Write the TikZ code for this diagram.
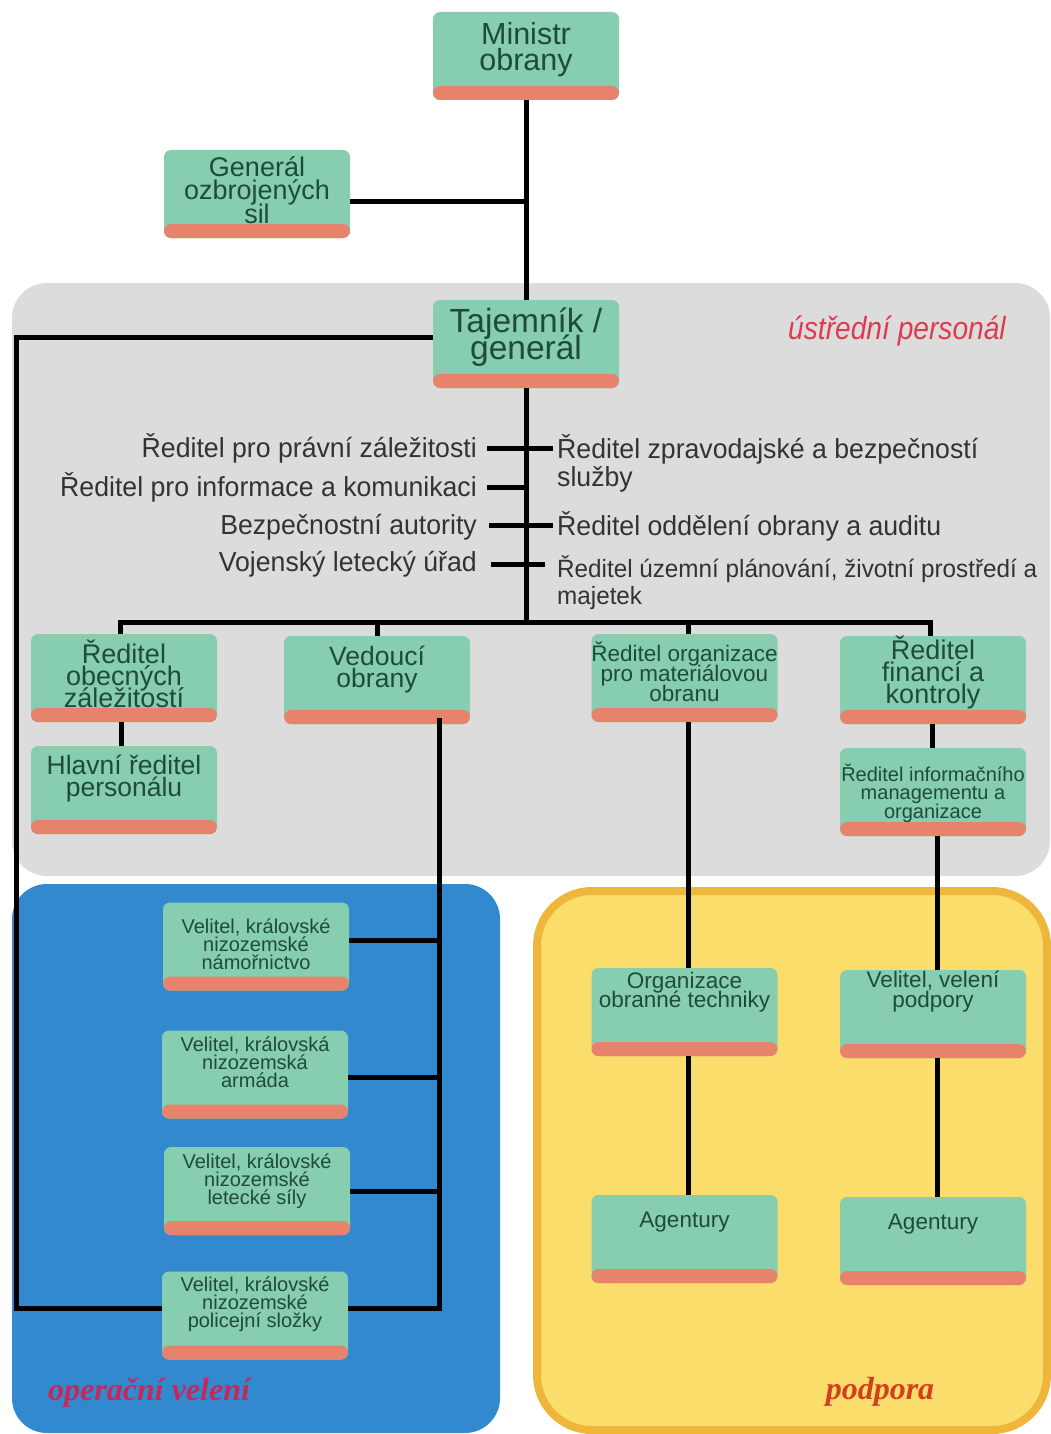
\documentclass[tikz,border=0pt]{standalone}
\usepackage{fontspec}
\setmainfont{Liberation Sans}
\newfontfamily\boxfont{Liberation Sans}
\newfontfamily\narrowfont[FakeStretch=0.97]{Liberation Sans}
\newfontfamily\italfont[FakeStretch=0.88]{Liberation Sans}
\newfontfamily\serifbi{Liberation Serif}
\definecolor{boxg}{HTML}{87CDAF}
\definecolor{band}{HTML}{E8836B}
\definecolor{boxtxt}{HTML}{1E4C3A}
\definecolor{grayreg}{HTML}{DCDCDC}
\definecolor{bluereg}{HTML}{3389CE}
\definecolor{yelreg}{HTML}{FADD6A}
\definecolor{yelbord}{HTML}{EFB63C}
\definecolor{lbltxt}{HTML}{333333}
\definecolor{redlbl}{HTML}{DF3A4E}
\definecolor{oplbl}{HTML}{C5285B}
\definecolor{podlbl}{HTML}{D2401F}
\tikzset{
  orgbox/.style={fill=boxg, rounded corners=7pt, minimum width=186pt, minimum height=88pt, inner sep=0pt,
    path picture={\fill[band] ([yshift=14pt]path picture bounding box.south west) rectangle (path picture bounding box.south east);}},
  boxtext/.style={text=boxtxt, align=center, inner sep=0pt},
  lbl/.style={text=lbltxt, inner sep=0pt, font=\narrowfont\fontsize{27.5}{28}\selectfont, text height=20pt, text depth=6pt},
  lblml/.style={text=lbltxt, inner sep=0pt, align=left, font=\narrowfont\fontsize{27.5}{28}\selectfont},
  lblsmall/.style={text=lbltxt, inner sep=0pt, align=left, font=\narrowfont\fontsize{25}{27}\selectfont},
  conn/.style={line width=5pt, black}
}
\newcommand\obox[7]{%
  \node[orgbox] (#1) at (#2,#3) {};
  \node[boxtext, font=\boxfont\fontsize{#5}{#6}\selectfont] (#1-t) at (#2,#4) {#7};}
\lineskiplimit=-100pt
\begin{document}
\lineskiplimit=-100pt
\begin{tikzpicture}[x=1pt, y=-1pt]
\useasboundingbox (0,0) rectangle (1051,1434);
\fill[white] (0,0) rectangle (1051,1434);
% regions
\fill[grayreg, rounded corners=35pt] (12,283) rectangle (1050,876);
\fill[bluereg, rounded corners=35pt] (12,884) rectangle (500,1433);
\draw[yelbord, fill=yelreg, line width=8pt, rounded corners=55pt] (537,891) rectangle (1047,1430);
% boxes
\obox{min}{526}{56}{49.5}{30.5}{26}{Ministr\\obrany}
\obox{gen}{257}{194}{190}{27}{23.5}{Generál\\ozbrojených\\sil}
\obox{taj}{526}{344}{337.5}{33.5}{27}{Tajemník /\\generál}
\obox{obec}{124}{678}{674}{27}{22}{Ředitel\\obecných\\záležitostí}
\obox{ved}{377}{680}{669}{26.5}{22}{Vedoucí\\obrany}
\obox{mat}{684.5}{678}{672}{22.5}{20}{Ředitel organizace\\pro materiálovou\\obranu}
\obox{fin}{933}{680}{672}{27}{22}{Ředitel\\financí a\\kontroly}
\obox{hla}{124}{790}{778}{26.5}{22}{Hlavní ředitel\\personálu}
\obox{inf}{933}{792}{793}{20}{18.5}{Ředitel informačního\\managementu a\\organizace}
\obox{nam}{256}{946.5}{944}{20}{18}{Velitel, královské\\nizozemské\\námořnictvo}
\obox{arm}{255}{1074.5}{1062}{20}{18}{Velitel, královská\\nizozemská\\armáda}
\obox{let}{257}{1191}{1181}{20}{18}{Velitel, královské\\nizozemské\\letecké síly}
\obox{pol}{255}{1315.5}{1304}{20}{18}{Velitel, královské\\nizozemské\\policejní složky}
\obox{tech}{684.5}{1012}{992.5}{22.5}{19}{Organizace\\obranné techniky}
\obox{pod}{933}{1014}{992}{22.5}{20}{Velitel, velení\\podpory}
\obox{ag1}{684.5}{1239}{1222}{22.5}{20}{Agentury}
\obox{ag2}{933}{1241}{1224}{22.5}{20}{Agentury}
% central labels
\node[lbl, anchor=east] (l1) at (477,450) {Ředitel pro právní záležitosti};
\node[lbl, anchor=east] (l2) at (477,489) {Ředitel pro informace a komunikaci};
\node[lbl, anchor=east] (l3) at (477,527) {Bezpečnostní autority};
\node[lbl, anchor=east] (l4) at (477,564) {Vojenský letecký úřad};
\node[lblml, anchor=north west] (r1) at (557,434) {Ředitel zpravodajské a bezpečností\\služby};
\node[lbl, anchor=west] (r3) at (557,528) {Ředitel oddělení obrany a auditu};
\node[lblsmall, anchor=north west] (r4) at (557,555) {Ředitel územní plánování, životní prostředí a\\majetek};
% region labels
\node[text=redlbl, inner sep=0pt, font=\italfont\itshape\fontsize{32}{34}\selectfont] (lc) at (897,331) {ústřední personál};
\node[text=oplbl, inner sep=0pt, anchor=west, font=\serifbi\bfseries\itshape\fontsize{32}{34}\selectfont] (lo) at (48,1393) {operační velení};
\node[text=podlbl, inner sep=0pt, font=\serifbi\bfseries\itshape\fontsize{32}{34}\selectfont] (lp) at (880,1392) {podpora};
% connectors
\begin{scope}[conn]
\draw (min.south) -- (taj.north);
\draw ([yshift=-8pt]gen.east) -- ([yshift=-8pt]gen.east -| min.south);
\coordinate (lx) at (16,337);
\draw ([yshift=7pt]taj.west) -- (lx) |- ([yshift=7.5pt]pol.west);
\coordinate (bus) at (526,622);
\draw (taj.south) -- (bus);
\draw ([xshift=-4pt]obec.north) |- ([xshift=-3pt]fin.north |- bus) -- ([xshift=-3pt]fin.north);
\draw (ved.north) -- (ved.north |- bus);
\draw ([xshift=4pt]mat.north) -- ([xshift=4pt]mat.north |- bus);
\draw ([xshift=-3pt]obec.south) -- ([xshift=-3pt]hla.north);
\draw ([xshift=-1pt]fin.south) -- ([xshift=-1pt]inf.north);
\draw ([xshift=4pt]inf.south) -- ([xshift=4pt]pod.north);
\draw ([xshift=4pt]pod.south) -- ([xshift=4pt]ag2.north);
\draw ([xshift=4pt]mat.south) -- ([xshift=4pt]tech.north);
\draw ([xshift=4pt]tech.south) -- ([xshift=4pt]ag1.north);
\coordinate (vd) at ([xshift=62pt,yshift=6pt]ved.south);
\draw (vd) |- ([yshift=7.5pt]pol.east);
\draw ([yshift=6.5pt]nam.east) -- ([yshift=6.5pt]nam.east -| vd);
\draw ([yshift=-2.5pt]arm.east) -- ([yshift=-2.5pt]arm.east -| vd);
\draw (let.east) -- (let.east -| vd);
% ticks
\draw ([xshift=10pt,yshift=2pt]l1.east) -- ([xshift=-4pt,yshift=2pt]l1.east -| r1.west);
\draw ([xshift=10pt,yshift=2pt]l2.east) -- ([yshift=2pt]l2.east -| taj.south);
\draw ([xshift=12pt,yshift=2pt]l3.east) -- ([xshift=-4pt,yshift=2pt]l3.east -| r3.west);
\draw ([xshift=14pt]l4.east) -- ([xshift=-12pt]l4.east -| r4.west);
\end{scope}
\end{tikzpicture}
\end{document}
